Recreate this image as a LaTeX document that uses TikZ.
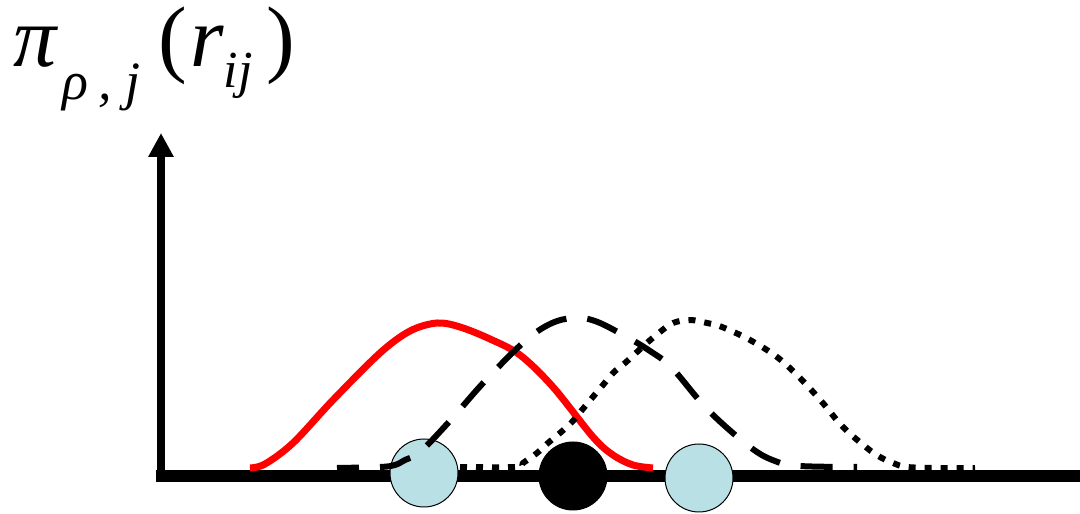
\documentclass[tikz,border=0pt]{standalone}
\usepackage{fontspec}
\setmainfont{Liberation Serif}
\usepackage{tikz}
\usetikzlibrary{arrows.meta}
\definecolor{atom-blue}{RGB}{185,224,228}
\definecolor{curve-red}{RGB}{255,0,0}

\begin{document}
\begin{tikzpicture}[x=1pt,y=1pt]
\useasboundingbox (0,0) rectangle (1080,514);
\tikzset{atom/.style={circle, minimum size=68pt, inner sep=0pt, draw=black, line width=1pt},
curve/.style={line width=6pt, line join=round}}
%axes
\coordinate (origin) at (156,38);
\coordinate (xend) at (1080,38);
\coordinate (ybot) at (161,32);
\coordinate (ytop) at (161,381);
\draw [line width=12pt] (origin) -- (xend);
\draw [line width=8pt, -{Triangle[width=24pt,length=24pt]}] (ybot) -- (ytop);
%axis label
\node [name=ylabel,
anchor=base west,
inner sep=0pt,
font=\fontsize{86}{86}\selectfont] at (13,447)
{\itshape π\hspace{6pt}\raisebox{-33pt}{\fontsize{54}{54}\selectfont ρ\hspace{10pt},\hspace{14pt}j}\hspace{18pt}\upshape(\hspace{3pt}\itshape r\raisebox{-21pt}{\fontsize{52}{52}\selectfont ij}\hspace{14pt}\upshape)};
%atoms on the line
\node [name=leftatom, atom, fill=atom-blue] at (424,41) {};
\node [name=midatom, atom, fill=black] at (573,38) {};
\node [name=rightatom, atom, fill=atom-blue] at (699,36) {};
%distributions
\draw [curve, curve-red, line width=7pt] plot [smooth, tension=0.55] coordinates
{(250,46) (265,50) (293,71) (333,114) (380,161) (410,183) (437,191) (460,187) (490,175) (520,159) (553,127) (593,77) (613,59) (633,49) (653,46)};
\draw [curve, dash pattern=on 32pt off 21pt, dash phase=10pt] plot [smooth, tension=0.6] coordinates
{(337,46) (380,47) (395,49) (405,54) (420,62) (448,91) (485,133) (524,172) (550,190) (573,196) (595,193) (625,178) (650,163) (672,146) (708,104) (750,67) (775,53) (800,48) (857,47)};
\draw [curve, dash pattern=on 7pt off 9pt] plot [smooth, tension=0.6] coordinates
{(460,47) (517,47) (523,51) (537,61) (548,71) (560,81) (572,92) (582,104) (592,116) (603,129) (613,141) (625,151) (637,162) (648,172) (660,182) (673,191) (690,194) (707,191) (722,187) (750,174) (777,157) (800,136) (822,112) (843,87) (867,66) (880,57) (893,51) (907,47) (940,46) (975,46)};
\end{tikzpicture}
\end{document}
